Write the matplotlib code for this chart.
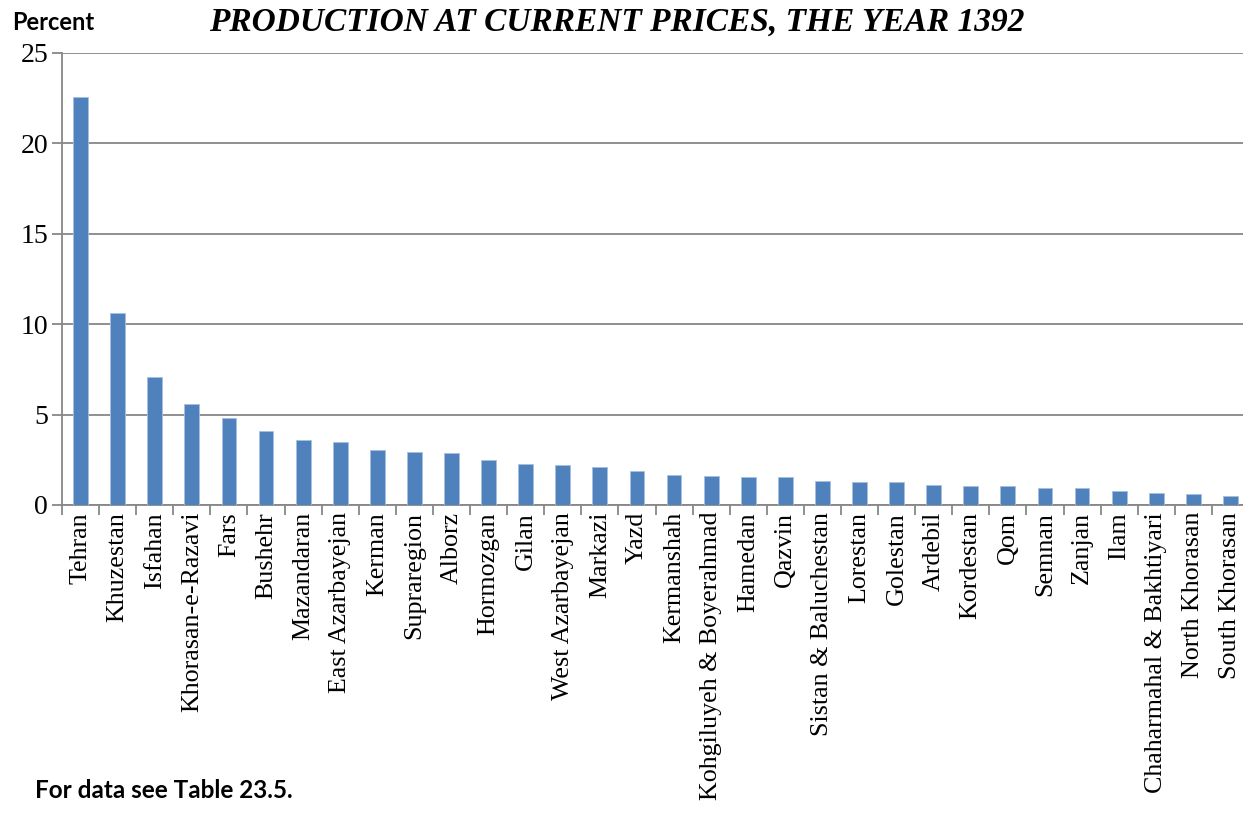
import numpy as np
import matplotlib.pyplot as plt

provinces = ['Tehran', 'Khuzestan', 'Isfahan', 'Khorasan-e-Razavi', 'Fars', 'Bushehr',
             'Mazandaran', 'East Azarbayejan', 'Kerman', 'Supraregion', 'Alborz',
             'Hormozgan', 'Gilan', 'West Azarbayejan', 'Markazi', 'Yazd', 'Kermanshah',
             'Kohgiluyeh & Boyerahmad', 'Hamedan', 'Qazvin', 'Sistan & Baluchestan',
             'Lorestan', 'Golestan', 'Ardebil', 'Kordestan', 'Qom', 'Semnan', 'Zanjan',
             'Ilam', 'Chaharmahal & Bakhtiyari', 'North Khorasan', 'South Khorasan']
share = [22.55, 10.62, 7.08, 5.59, 4.79, 4.07, 3.60, 3.48, 3.06, 2.93, 2.86,
         2.51, 2.29, 2.23, 2.10, 1.88, 1.68, 1.59, 1.55, 1.55, 1.31,
         1.27, 1.27, 1.11, 1.03, 1.03, 0.94, 0.94, 0.77, 0.66, 0.59, 0.50]
yticks = [0, 5, 10, 15, 20, 25]

W, H = 1243, 814
fig = plt.figure(figsize=(W/100, H/100), dpi=100)
ax = fig.add_axes([62/W, 309/H, 1187/W, 452/H])

x = np.arange(len(provinces))
ax.bar(x, share, width=0.4, color='#4F81BD', edgecolor='#A7C0DE', linewidth=0.6, zorder=3)

ax.set_xlim(-0.5, len(provinces) - 0.5)
ax.set_ylim(0, 25)
ax.set_yticks(yticks)
ax.set_yticklabels([str(t) for t in yticks], family='Liberation Serif', fontsize=20)
ax.yaxis.grid(True, color='#878787', linewidth=1.3, zorder=0)

ax.set_xticks(x)
ax.set_xticklabels(provinces, rotation=90, family='Liberation Serif', fontsize=18.7)
ax.tick_params(axis='x', length=0, pad=5)
ax.set_xticks(np.arange(len(provinces) + 1) - 0.5, minor=True)
ax.tick_params(axis='x', which='minor', length=7, width=1.3, color='#878787')
ax.tick_params(axis='y', length=7, width=1.3, color='#878787', pad=3)

for s in ['top', 'right']:
    ax.spines[s].set_visible(False)
for s in ['left', 'bottom']:
    ax.spines[s].set_color('#878787')
    ax.spines[s].set_linewidth(1.3)

fig.text(617/W, 1 - 22/H, 'PRODUCTION AT CURRENT PRICES, THE YEAR 1392', ha='center', va='center',
         family='Liberation Serif', fontweight='bold', fontstyle='italic', fontsize=24)
fig.text(12/W, 1 - 23/H, 'Percent', ha='left', va='center', family='Lato',
         fontweight='bold', fontsize=17)
fig.text(35/W, 1 - 790/H, 'For data see Table 23.5.', ha='left', va='center', family='Lato',
         fontweight='bold', fontsize=17.5)

fig.savefig('out.png', dpi=100)
